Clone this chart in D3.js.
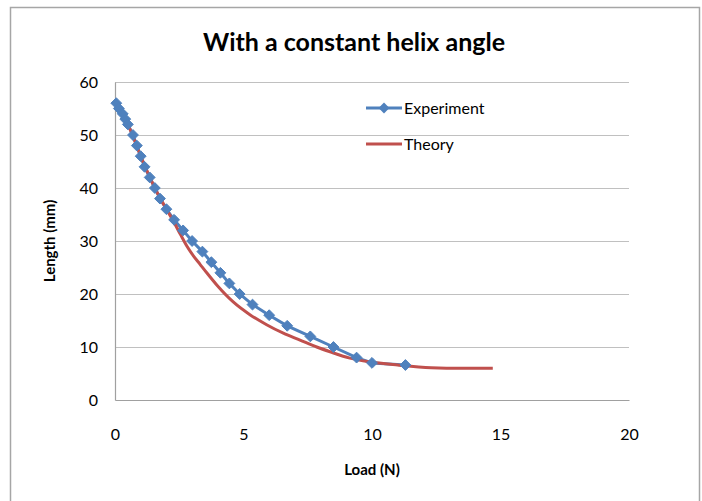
<!DOCTYPE html>
<html>
<head>
<meta charset="utf-8">
<script src="https://cdn.jsdelivr.net/npm/d3@7"></script>
<style>
  body { margin: 0; background: #fff; }
  text { font-family: Lato, "Open Sans", sans-serif; fill: #000; }
</style>
</head>
<body>
<div id="graph"></div>
<script>
// Experiment: load (N) vs length (mm)
var expLoad = [0.05, 0.15, 0.3, 0.4, 0.5, 0.7, 0.85, 1.0, 1.15, 1.35, 1.55, 1.75, 2.0, 2.3, 2.65, 3.0, 3.4, 3.75, 4.1, 4.45, 4.85, 5.35, 6.0, 6.7, 7.6, 8.5, 9.4, 10.0, 11.3];
var expLength = [56, 55, 54, 53, 52, 50, 48, 46, 44, 42, 40, 38, 36, 34, 32, 30, 28, 26, 24, 22, 20, 18, 16, 14, 12, 10, 8, 7, 6.6];

// Theory curve
var thLoad = [0.05, 0.5, 1.0, 1.55, 2.0, 2.3, 2.55, 2.8, 3.05, 3.31, 3.57, 3.96, 4.6, 5.25, 5.9, 6.55, 7.2, 7.85, 8.37, 9.14, 9.9, 11.0, 12.3, 13.5, 14.7];
var thLength = [56, 52, 46, 40, 36, 33.5, 31.2, 29.0, 27.2, 25.6, 24.0, 21.7, 18.5, 16.1, 14.2, 12.6, 11.3, 10.0, 9.1, 7.9, 7.2, 6.6, 6.1, 6.0, 6.0];

var xTicks = [0, 5, 10, 15, 20];
var yTicks = [0, 10, 20, 30, 40, 50, 60];

var width = 702;
var height = 501;

var svg = d3.select("#graph").
append("svg").
attr("width", width).
attr("height", height);

// chart frame
svg.append("rect").
attr("x", 10.5).
attr("y", 7.5).
attr("width", 689).
attr("height", 500).
style("fill", "#fff").
style("stroke", "#a6a6a6").
style("stroke-width", 1.5);

var xScale = d3.scaleLinear().domain([0, 20]).range([115, 629]);
var yScale = d3.scaleLinear().domain([0, 60]).range([400, 82]);

// gridlines
svg.append("g").
selectAll("line").
data(yTicks.filter(function (d) {return d > 0;})).
enter().
append("line").
attr("x1", xScale(0)).
attr("x2", xScale(20)).
attr("y1", function (d) {return Math.round(yScale(d)) + 0.5;}).
attr("y2", function (d) {return Math.round(yScale(d)) + 0.5;}).
style("stroke", "#c0c0c0").
style("stroke-width", 1.2);

var xAxis = d3.axisBottom(xScale).tickValues(xTicks).tickSize(0).tickPadding(29);
var yAxis = d3.axisLeft(yScale).tickValues(yTicks).tickSize(0).tickPadding(17);

svg.append("g").
attr("transform", "translate(0," + yScale(0) + ")").
attr("id", "x-axis").
call(xAxis).
call(function (g) {
  g.select(".domain").style("stroke", "#a0a0a0").style("stroke-width", 1.2);
  g.selectAll("text").style("font-size", "16px").style("fill", "#000");
});

svg.append("g").
attr("transform", "translate(" + xScale(0) + ",0)").
attr("id", "y-axis").
call(yAxis).
call(function (g) {
  g.select(".domain").style("stroke", "#a0a0a0").style("stroke-width", 1.2);
  g.selectAll("text").style("font-size", "16px").style("fill", "#000");
});

var expData = expLoad.map(function (d, i) {return { x: d, y: expLength[i] };});
var thData = thLoad.map(function (d, i) {return { x: d, y: thLength[i] };});

var line = d3.line().
x(function (d) {return xScale(d.x);}).
y(function (d) {return yScale(d.y);});

var smooth = d3.line().
curve(d3.curveMonotoneX).
x(function (d) {return xScale(d.x);}).
y(function (d) {return yScale(d.y);});

// experiment line
svg.append("path").
datum(expData).
attr("d", line).
style("fill", "none").
style("stroke", "#4f81bd").
style("stroke-width", 3);

// theory line
svg.append("path").
datum(thData).
attr("d", smooth).
style("fill", "none").
style("stroke", "#c0504d").
style("stroke-width", 3);

var diamond = d3.symbol().type(d3.symbolDiamond2).size(75);

svg.append("g").
selectAll("path").
data(expData).
enter().
append("path").
attr("d", diamond).
attr("transform", function (d) {return "translate(" + xScale(d.x) + "," + yScale(d.y) + ")";}).
style("fill", "#4f81bd").
style("stroke", "#4f81bd").
style("stroke-width", 1);

// legend
var legend = svg.append("g").attr("id", "legend");

legend.append("line").
attr("x1", 366).attr("x2", 402).
attr("y1", 108).attr("y2", 108).
style("stroke", "#4f81bd").
style("stroke-width", 3);

legend.append("path").
attr("d", diamond).
attr("transform", "translate(384,108)").
style("fill", "#4f81bd");

legend.append("text").
text("Experiment").
attr("x", 404).
attr("y", 108).
attr("dy", "0.35em").
style("font-size", "16px");

legend.append("line").
attr("x1", 366).attr("x2", 402).
attr("y1", 144).attr("y2", 144).
style("stroke", "#c0504d").
style("stroke-width", 3);

legend.append("text").
text("Theory").
attr("x", 404).
attr("y", 144).
attr("dy", "0.35em").
style("font-size", "16px");

// titles
svg.append("text").
text("With a constant helix angle").
attr("x", 354).
attr("y", 42).
attr("dy", "0.35em").
attr("id", "title").
style("font-size", "25px").
style("font-weight", "bold").
style("text-anchor", "middle");

svg.append("text").
text("Load (N)").
attr("x", 372).
attr("y", 470).
attr("dy", "0.35em").
style("font-size", "15px").
style("font-weight", "bold").
style("text-anchor", "middle");

svg.append("text").
text("Length (mm)").
attr("transform", "translate(50," + yScale(30) + ") rotate(-90)").
attr("dy", "0.35em").
style("font-size", "15px").
style("font-weight", "bold").
style("text-anchor", "middle");
</script>
</body>
</html>
